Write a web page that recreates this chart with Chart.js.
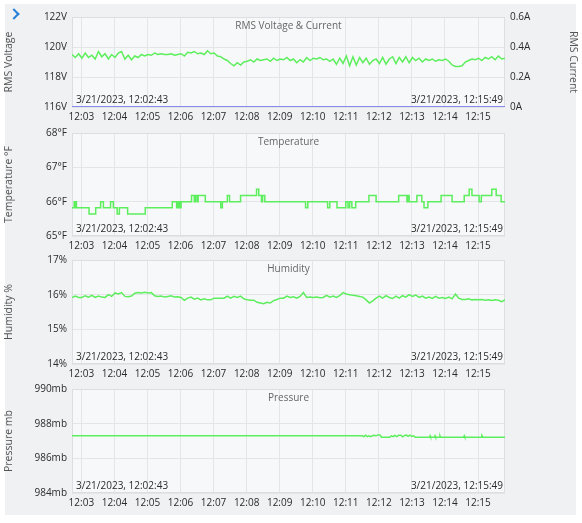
<!DOCTYPE html>
<html>
<head>
<meta charset="utf-8">
<script src="https://cdn.jsdelivr.net/npm/chart.js@4.4.1/dist/chart.umd.min.js"></script>
<style>
  html, body { margin: 0; padding: 0; background: #fff; }
  body { width: 582px; height: 523px; position: relative; overflow: hidden; }
  #panel { position: absolute; left: 5px; top: 4px; width: 571px; height: 511px; background: #eff1f3; }
  .chev { position: absolute; left: 10px; top: 10px; width: 6px; height: 6px;
          border-top: 2px solid #2a7fd6; border-right: 2px solid #2a7fd6; transform: rotate(45deg); }
  canvas { position: absolute; left: 0; }
</style>
</head>
<body>
<div id="panel"></div>
<div class="chev"></div>
<canvas id="cVolt" width="582" height="121" style="top:6px"></canvas>
<canvas id="cTemp" width="582" height="134" style="top:122px"></canvas>
<canvas id="cHum" width="582" height="135" style="top:249px"></canvas>
<canvas id="cPres" width="582" height="135" style="top:378px"></canvas>
<script>
// ---- data --------------------------------------------------------------
const DATE_TEXT = '3/21/2023';
const START_TIME = '12:02:43';
const END_TIME = '12:15:49';
const SAMPLE_STEP = 6; // seconds between voltage / humidity samples
const timeTicks = ['12:03','12:04','12:05','12:06','12:07','12:08','12:09',
                   '12:10','12:11','12:12','12:13','12:14','12:15'];

// RMS voltage (V), one sample every 6 s from 12:02:43
const voltage = [
  119.5, 119.3, 119.55,
  119.25, 119.6, 119.3, 119.45, 119.2, 119.7, 119.35, 119.55, 119.2, 119.5,
  119.3, 119.6, 119.7, 119.2, 119.45, 119.15, 119.4, 119.3, 119.5, 119.4,
  119.5, 119.45, 119.6, 119.5, 119.55, 119.5, 119.5, 119.55, 119.45, 119.5,
  119.55, 119.4, 119.65, 119.6, 119.7, 119.55, 119.6, 119.5, 119.75, 119.55,
  119.6, 119.4, 119.35, 119.2, 119.1, 118.9, 118.75, 118.95, 118.8, 119.0,
  119.05, 119.15, 119.0, 119.2, 119.1, 119.15, 119.2, 119.05, 119.25, 119.1,
  119.2, 119.15, 119.3, 119.1, 119.2, 118.95, 119.15, 119.0, 119.3, 119.1,
  119.25, 119.2, 119.3, 119.15, 119.2, 119.05, 119.2, 118.85, 119.25, 118.9,
  119.4, 118.75, 119.35, 118.8, 119.3, 118.95, 119.25, 118.85, 119.1, 119.2,
  118.9, 119.3, 118.85, 119.2, 119.35, 118.9, 119.3, 119.0, 119.35, 118.95,
  119.3, 119.1, 119.25, 119.0, 119.2, 119.1, 119.2, 119.05, 119.15, 119.1,
  119.2, 119.05, 118.8, 118.7, 118.7, 118.75, 119.0, 119.1, 119.2, 119.15,
  119.25, 119.1, 119.3, 119.2, 119.35, 119.15, 119.4, 119.2, 119.25
];

// RMS current (A)
const currentTimes = ['12:02:43', '12:15:49'];
const current = [0, 0];

// temperature (°F), value holds from each time until the next
const tempTimes = [
  '12:02:43','12:02:47','12:02:48','12:02:50','12:02:51','12:03:14','12:03:26','12:03:35',
  '12:03:40','12:03:53','12:03:58','12:04:05','12:04:09','12:04:24','12:04:56','12:05:45',
  '12:05:53','12:05:55','12:05:56','12:05:58','12:06:00','12:06:01','12:06:20','12:06:25',
  '12:06:27','12:06:30','12:06:32','12:06:45','12:07:13','12:07:16','12:07:25','12:07:29',
  '12:07:49','12:08:18','12:08:22','12:08:27','12:08:29','12:08:33','12:09:47','12:09:51',
  '12:10:27','12:10:31','12:10:44','12:11:00','12:11:04','12:11:07','12:11:11','12:11:18',
  '12:11:42','12:11:55','12:12:36','12:12:51','12:12:53','12:12:55','12:13:09','12:13:18',
  '12:13:22','12:13:29','12:13:53','12:14:13','12:14:35','12:14:44','12:14:49','12:15:02',
  '12:15:06','12:15:25','12:15:33','12:15:42','12:15:49'
];
const temperature = [
  65.82, 66.0, 65.82, 66.0, 65.82, 65.64, 65.82, 66.0,
  65.82, 66.0, 65.82, 65.64, 65.82, 65.64, 65.82, 66.0,
  65.82, 66.0, 65.82, 66.0, 65.82, 66.0, 66.18, 66.0,
  66.18, 66.0, 66.18, 66.0, 65.82, 66.0, 66.18, 66.0,
  66.18, 66.36, 66.18, 66.0, 66.18, 66.0, 65.82, 66.0,
  65.82, 66.0, 65.82, 66.0, 65.82, 66.0, 65.82, 66.0,
  66.18, 66.0, 66.18, 66.0, 66.18, 66.0, 66.18, 66.0,
  65.82, 66.0, 66.18, 66.0, 66.18, 66.36, 66.18, 66.0,
  66.18, 66.36, 66.18, 66.0, 66.0
];

// humidity (%), one sample every 6 s from 12:02:43
const humidity = [
  15.92, 15.96, 15.92,
  15.92, 15.97, 15.93, 15.98, 15.92, 15.96, 15.93, 15.92, 16.0, 15.95,
  16.05, 16.02, 16.06, 15.95, 15.94, 15.96, 16.04, 16.06, 16.05, 16.07,
  16.05, 16.06, 15.97, 15.95, 15.96, 15.93, 15.95, 15.97, 15.93, 15.94,
  15.92, 15.84, 15.9, 15.93, 15.87, 15.9, 15.85, 15.88, 15.85, 15.85,
  15.9, 15.9, 15.9, 15.9, 15.96, 15.9, 15.95, 15.92, 15.96, 15.88,
  15.85, 15.84, 15.84, 15.78, 15.76, 15.74, 15.78, 15.76, 15.83, 15.86,
  15.9, 15.9, 15.96, 15.92, 15.94, 15.9, 15.95, 16.06, 15.92, 15.93,
  15.92, 15.93, 15.91, 15.92, 15.98, 15.93, 15.96, 15.92, 15.97, 16.06,
  16.02, 16.0, 15.98, 15.97, 15.95, 15.93, 15.85, 15.76, 15.82, 15.9,
  15.96, 15.9, 15.97, 15.92, 15.89, 15.96, 15.9, 15.97, 15.93, 16.0,
  15.95, 15.99, 15.92, 15.96, 15.9, 15.93, 15.89, 15.95, 15.9, 15.92,
  15.89, 15.93, 15.88, 16.02, 15.9, 15.86, 15.86, 15.88, 15.85, 15.86,
  15.85, 15.86, 15.84, 15.85, 15.83, 15.85, 15.84, 15.8, 15.85
];

// pressure (mb)
const presTimes = [
  '12:02:43','12:11:30','12:11:33','12:11:36','12:11:39','12:11:42','12:11:45','12:11:50',
  '12:11:55','12:11:58','12:12:02','12:12:05','12:12:20','12:12:23','12:12:26','12:12:29',
  '12:12:32','12:12:36','12:12:40','12:12:43','12:12:47','12:12:50','12:12:53','12:12:56',
  '12:13:00','12:13:03','12:13:06','12:13:32','12:13:33','12:13:34','12:13:41','12:13:42',
  '12:13:43','12:13:50','12:13:51','12:13:52','12:14:34','12:14:35','12:14:36','12:15:06',
  '12:15:07','12:15:09','12:15:49'
];
const pressure = [
  987.3, 987.3, 987.25, 987.33, 987.25, 987.3, 987.25, 987.33,
  987.3, 987.35, 987.35, 987.22, 987.22, 987.3, 987.25, 987.32,
  987.25, 987.33, 987.33, 987.24, 987.32, 987.34, 987.27, 987.34,
  987.26, 987.3, 987.22, 987.22, 987.3, 987.22, 987.22, 987.3,
  987.22, 987.22, 987.3, 987.22, 987.22, 987.3, 987.22, 987.22,
  987.32, 987.22, 987.22
];

// ---- helpers -----------------------------------------------------------
const FONT = '"Open Sans", sans-serif';
const GREEN = '#5cee5c';
const BLUE = '#6c6cec';

function toSec(hms) {
  const [h, m, s] = hms.split(':').map(Number);
  return h * 3600 + m * 60 + (s || 0);
}
function fmtTime(sec) {
  const h = Math.floor(sec / 3600), m = Math.floor((sec % 3600) / 60);
  return h + ':' + String(m).padStart(2, '0');
}
const T0 = toSec(START_TIME), T1 = toSec(END_TIME);
const sampled = vals => vals.map((v, i) => ({ x: T0 + i * SAMPLE_STEP, y: v }));
const timed = (times, vals) => vals.map((v, i) => ({ x: toSec(times[i]), y: v }));

// plot background, frame and inner captions
const framePlugin = {
  id: 'frame',
  beforeDraw(chart) {
    const { ctx, chartArea: a } = chart;
    ctx.save();
    ctx.fillStyle = '#f7f8f9';
    ctx.fillRect(a.left, a.top, a.width, a.height);
    ctx.restore();
  },
  beforeDatasetsDraw(chart) {
    const { ctx, chartArea: a } = chart;
    ctx.save();
    ctx.strokeStyle = '#dcdee1';
    ctx.lineWidth = 1;
    ctx.strokeRect(a.left + 0.5, a.top + 0.5, a.width - 1, a.height - 1);
    ctx.restore();
  },
  afterDatasetsDraw(chart, args, opts) {
    const { ctx, chartArea: a } = chart;
    ctx.save();
    ctx.font = '10px ' + FONT;
    ctx.textBaseline = 'middle';
    ctx.fillStyle = '#666';
    ctx.textAlign = 'center';
    ctx.fillText(opts.title, (a.left + a.right) / 2, a.top + 9);
    ctx.fillStyle = '#2b2b2b';
    ctx.textAlign = 'left';
    ctx.fillText(DATE_TEXT + ', ' + START_TIME, a.left + 4, a.bottom - 7);
    ctx.textAlign = 'right';
    ctx.fillText(DATE_TEXT + ', ' + END_TIME, a.right - 2, a.bottom - 7);
    ctx.restore();
  }
};

function xScale() {
  return {
    type: 'linear', min: T0, max: T1,
    afterBuildTicks: s => { s.ticks = timeTicks.map(t => ({ value: toSec(t) })); },
    afterFit: s => { s.height = 20; },
    grid: { color: '#e3e5e8', drawTicks: false },
    border: { display: false },
    ticks: { callback: v => fmtTime(v), color: '#2b2b2b', font: { family: FONT, size: 10 },
             padding: 4, maxRotation: 0, autoSkip: false }
  };
}
function yScale(min, max, step, unit, title, pos, digits) {
  return {
    type: 'linear', position: pos, min, max,
    afterFit: s => { s.width = pos === 'left' ? 72 : 77; },
    grid: { color: '#e3e5e8', drawTicks: false, display: pos === 'left' },
    border: { display: false },
    ticks: { stepSize: step, color: '#2b2b2b', font: { family: FONT, size: 10 }, padding: 5,
             callback: v => (+v.toFixed(digits)) + unit },
    title: { display: true, text: title, color: '#555', font: { family: FONT, size: 10.5 },
             padding: { top: 3, bottom: 0 } }
  };
}
function line(data, color, axis) {
  return { data, borderColor: color, borderWidth: 1.5, pointRadius: 0, tension: 0,
           yAxisID: axis || 'y', fill: false };
}
function makeChart(id, title, datasets, scales, padRight) {
  return new Chart(document.getElementById(id), {
    type: 'line',
    data: { datasets },
    options: {
      responsive: false, animation: false,
      layout: { padding: { top: 10, right: padRight, bottom: 0, left: 0 } },
      plugins: { legend: { display: false }, tooltip: { enabled: false }, frame: { title } },
      scales
    },
    plugins: [framePlugin]
  });
}

// ---- charts ------------------------------------------------------------
makeChart('cVolt', 'RMS Voltage & Current',
  [line(sampled(voltage), GREEN, 'y'), line(timed(currentTimes, current), BLUE, 'y1')],
  { x: xScale(),
    y: yScale(116, 122, 2, 'V', 'RMS Voltage', 'left', 0),
    y1: yScale(0, 0.6, 0.2, 'A', 'RMS Current', 'right', 1) }, 0);

makeChart('cTemp', 'Temperature',
  [Object.assign(line(timed(tempTimes, temperature), GREEN), { stepped: true })],
  { x: xScale(), y: yScale(65, 68, 1, '°F', 'Temperature °F', 'left', 0) }, 77);

makeChart('cHum', 'Humidity',
  [line(sampled(humidity), GREEN)],
  { x: xScale(), y: yScale(14, 17, 1, '%', 'Humidity %', 'left', 0) }, 77);

makeChart('cPres', 'Pressure',
  [line(timed(presTimes, pressure), GREEN)],
  { x: xScale(), y: yScale(984, 990, 2, 'mb', 'Pressure mb', 'left', 0) }, 77);
</script>
</body>
</html>
